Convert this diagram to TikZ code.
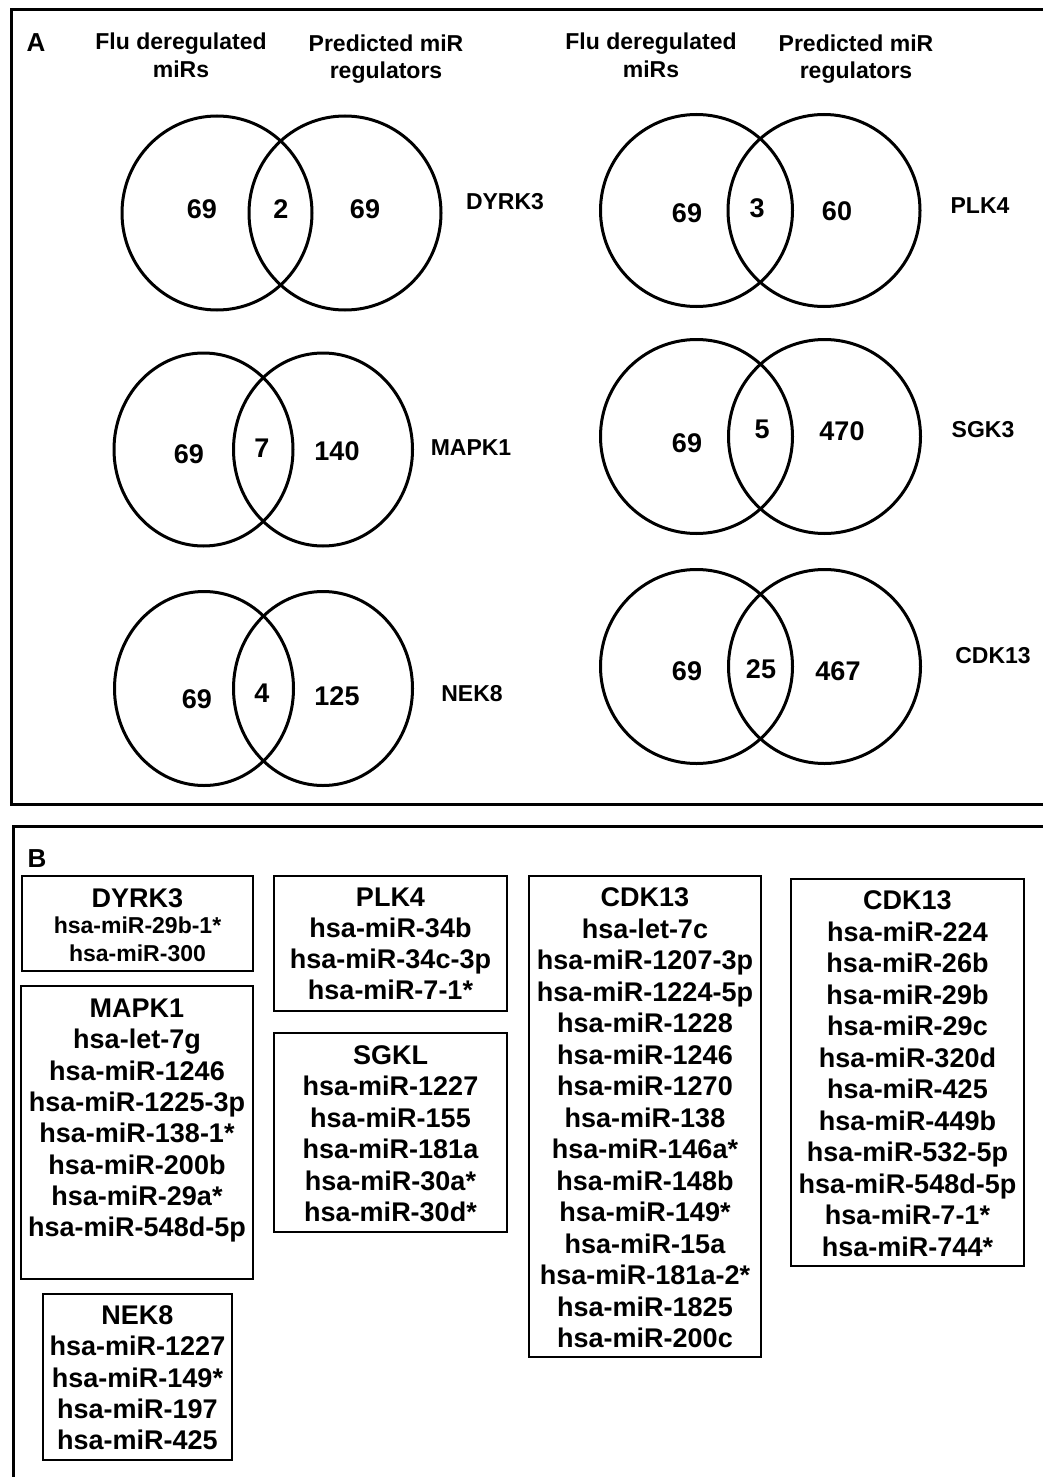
\documentclass[tikz,border=0pt]{standalone}
\usepackage{fontspec}
\setmainfont{Liberation Sans}
\usetikzlibrary{shapes.geometric}
\tikzset{
  venn/.style={draw, ellipse, line width=3pt, inner sep=0pt},
  num/.style={font=\bfseries\fontsize{27}{32}\selectfont, anchor=base, inner sep=0pt},
  gene/.style={font=\bfseries\fontsize{23}{27}\selectfont, anchor=base, inner sep=0pt},
  head/.style={font=\bfseries\fontsize{23}{27}\selectfont, anchor=base, inner sep=0pt},
  panel/.style={font=\bfseries\fontsize{26}{30}\selectfont, anchor=base, inner sep=0pt},
  entry/.style={font=\bfseries\fontsize{27}{31}\selectfont, anchor=base, inner sep=0pt},
  smallentry/.style={font=\bfseries\fontsize{23}{27}\selectfont, anchor=base, inner sep=0pt},
  listbox/.style={draw, line width=2pt, inner sep=0pt},
  frame/.style={draw, line width=3pt, inner sep=0pt, anchor=north west}
}
\begin{document}
\begin{tikzpicture}[x=1pt,y=-1pt]
\useasboundingbox (0,0) rectangle (1043,1477);
\clip (0,0) rectangle (1043,1477);
\fill[white] (0,0) rectangle (1043,1477);

% panel frames
\node[frame, minimum width=1100pt, minimum height=795pt] (frameA) at (10,8) {};
\node[frame, minimum width=1100pt, minimum height=700pt] (frameB) at (12,825) {};

% panel letters
\node[panel] (labA) at (36,52) {A};
\node[panel] (labB) at (37,867) {B};

% headers
\node[head] (hl1) at (181,50) {Flu deregulated};
\node[head] (hl2) at (181,78) {miRs};
\node[head] (hl3) at (386,52) {Predicted miR};
\node[head] (hl4) at (386,79) {regulators};
\node[head] (hr1) at (651,50) {Flu deregulated};
\node[head] (hr2) at (651,78) {miRs};
\node[head] (hr3) at (856,52) {Predicted miR};
\node[head] (hr4) at (856,79) {regulators};

% Venn row 1 left: DYRK3
\node[venn, minimum width=190pt, minimum height=194pt] (v1a) at (217,213) {};
\node[venn, minimum width=192pt, minimum height=194pt] (v1b) at (345,213) {};
\node[num] (n1a) at (202,218) {69};
\node[num] (n1b) at (281,218) {2};
\node[num] (n1c) at (365,218) {69};
\node[gene] (g1) at (505,209) {DYRK3};

% Venn row 2 left: MAPK1
\node[venn, minimum width=179pt, minimum height=193pt] (v2a) at (203.5,449.5) {};
\node[venn, minimum width=179pt, minimum height=193pt] (v2b) at (323,449.5) {};
\node[num] (n2a) at (189,463) {69};
\node[num] (n2b) at (262,457) {7};
\node[num] (n2c) at (337,460) {140};
\node[gene] (g2) at (471,455) {MAPK1};

% Venn row 3 left: NEK8
\node[venn, minimum width=179pt, minimum height=194pt] (v3a) at (204,688.5) {};
\node[venn, minimum width=179pt, minimum height=194pt] (v3b) at (323,688.5) {};
\node[num] (n3a) at (197,708) {69};
\node[num] (n3b) at (262,702) {4};
\node[num] (n3c) at (337,705) {125};
\node[gene] (g3) at (472,701) {NEK8};

% Venn row 1 right: PLK4
\node[venn, minimum width=192pt, minimum height=192pt] (v4a) at (696.5,210.5) {};
\node[venn, minimum width=192pt, minimum height=192pt] (v4b) at (824,210.5) {};
\node[num] (n4a) at (687,222) {69};
\node[num] (n4b) at (757,217) {3};
\node[num] (n4c) at (837,220) {60};
\node[gene] (g4) at (980,213) {PLK4};

% Venn row 2 right: SGK3
\node[venn, minimum width=192pt, minimum height=194pt] (v5a) at (696.5,436.5) {};
\node[venn, minimum width=192pt, minimum height=194pt] (v5b) at (824.5,436.5) {};
\node[num] (n5a) at (687,452) {69};
\node[num] (n5b) at (762,438) {5};
\node[num] (n5c) at (842,440) {470};
\node[gene] (g5) at (983,437) {SGK3};

% Venn row 3 right: CDK13
\node[venn, minimum width=192pt, minimum height=194pt] (v6a) at (696.5,666.5) {};
\node[venn, minimum width=192pt, minimum height=194pt] (v6b) at (824.5,666.5) {};
\node[num] (n6a) at (687,680) {69};
\node[num] (n6b) at (761,678) {25};
\node[num] (n6c) at (838,680) {467};
\node[gene] (g6) at (993,663) {CDK13};

% Panel B boxes
\node[listbox, minimum width=231pt, minimum height=95pt] (boxDYRK) at (137.5,923.5) {};
\node[listbox, minimum width=232pt, minimum height=293pt] (boxMAPK) at (137,1132.5) {};
\node[listbox, minimum width=189pt, minimum height=166pt] (boxNEK) at (137.5,1377) {};
\node[listbox, minimum width=233pt, minimum height=135pt] (boxPLK) at (390.5,943.5) {};
\node[listbox, minimum width=233pt, minimum height=199pt] (boxSGKL) at (390.5,1132.5) {};
\node[listbox, minimum width=232pt, minimum height=481pt] (boxCDKa) at (645,1116.5) {};
\node[listbox, minimum width=233pt, minimum height=387pt] (boxCDKb) at (907.5,1072.5) {};

% DYRK3 list
\node[entry] (dyrkT) at (137.5,907) {DYRK3};
\node[smallentry] (dyrk1) at (137.5,933) {hsa-miR-29b-1*};
\node[smallentry] (dyrk2) at (137.5,961) {hsa-miR-300};

% MAPK1 list
\foreach \t [count=\i from 0] in {MAPK1, hsa-let-7g, hsa-miR-1246, hsa-miR-1225-3p, hsa-miR-138-1*, hsa-miR-200b, hsa-miR-29a*, hsa-miR-548d-5p}
  \node[entry] (mapk\i) at (137,1017.5+\i*31.3) {\t};

% NEK8 list
\foreach \t [count=\i from 0] in {NEK8, hsa-miR-1227, hsa-miR-149*, hsa-miR-197, hsa-miR-425}
  \node[entry] (nek\i) at (137.5,1324.5+\i*31.3) {\t};

% PLK4 list
\foreach \t [count=\i from 0] in {PLK4, hsa-miR-34b, hsa-miR-34c-3p, hsa-miR-7-1*}
  \node[entry] (plk\i) at (390.5,906.5+\i*31) {\t};

% SGKL list
\foreach \t [count=\i from 0] in {SGKL, hsa-miR-1227, hsa-miR-155, hsa-miR-181a, hsa-miR-30a*, hsa-miR-30d*}
  \node[entry] (sgkl\i) at (390.5,1064.5+\i*31.4) {\t};

% CDK13 list 1
\foreach \t [count=\i from 0] in {CDK13, hsa-let-7c, hsa-miR-1207-3p, hsa-miR-1224-5p, hsa-miR-1228, hsa-miR-1246, hsa-miR-1270, hsa-miR-138, hsa-miR-146a*, hsa-miR-148b, hsa-miR-149*, hsa-miR-15a, hsa-miR-181a-2*, hsa-miR-1825, hsa-miR-200c}
  \node[entry] (cdka\i) at (645,906.5+\i*31.5) {\t};

% CDK13 list 2
\foreach \t [count=\i from 0] in {CDK13, hsa-miR-224, hsa-miR-26b, hsa-miR-29b, hsa-miR-29c, hsa-miR-320d, hsa-miR-425, hsa-miR-449b, hsa-miR-532-5p, hsa-miR-548d-5p, hsa-miR-7-1*, hsa-miR-744*}
  \node[entry] (cdkb\i) at (907.5,909.5+\i*31.5) {\t};
\end{tikzpicture}
\end{document}
